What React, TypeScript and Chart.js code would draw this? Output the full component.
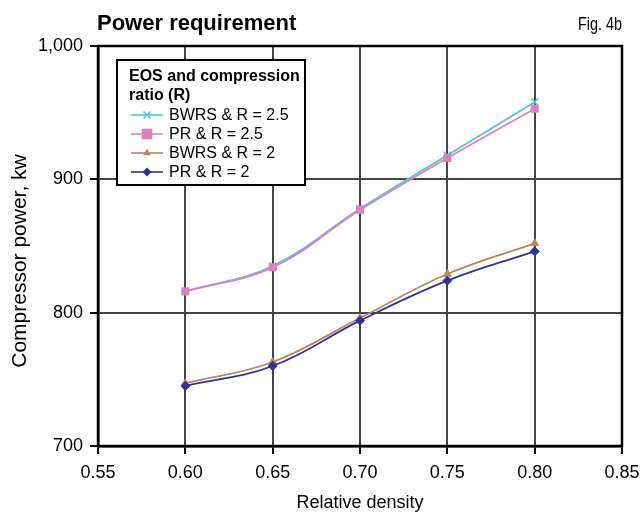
import React, { useEffect, useRef } from "react";
import { Chart, registerables } from "chart.js";

Chart.register(...registerables);

const densities = [0.6, 0.65, 0.7, 0.75, 0.8];
const bwrs25 = [816, 835, 878, 918, 958];
const pr25 = [816, 834, 877, 916, 953];
const bwrs2 = [747, 763, 796, 829, 852];
const pr2 = [745, 760, 794, 824, 846];
const seriesNames = ["BWRS & R = 2.5", "PR & R = 2.5", "BWRS & R = 2", "PR & R = 2"];
const seriesColors = ["#4ec5dc", "#e07fbf", "#c0825e", "#2f3396"];
const seriesMarkers = ["crossRot", "rect", "triangle", "rectRot"];
const markerRadius = [5, 5, 4.5, 4.5];
const xTicks = [0.55, 0.6, 0.65, 0.7, 0.75, 0.8, 0.85];
const yTicks = [700, 800, 900, 1000];
const titleText = "Power requirement";
const figText = "Fig. 4b";
const xTitle = "Relative density";
const yTitle = "Compressor power, kw";
const legendTitle = ["EOS and compression", "ratio (R)"];

const FONT = "'Liberation Sans', Arial, sans-serif";

function drawMarker(ctx: CanvasRenderingContext2D, style: string, r: number, x: number, y: number, color: string) {
  ctx.save();
  ctx.fillStyle = color;
  ctx.strokeStyle = color;
  ctx.lineWidth = 1.5;
  ctx.beginPath();
  if (style === "crossRot") {
    ctx.moveTo(x - r * 0.7, y - r * 0.7);
    ctx.lineTo(x + r * 0.7, y + r * 0.7);
    ctx.moveTo(x + r * 0.7, y - r * 0.7);
    ctx.lineTo(x - r * 0.7, y + r * 0.7);
    ctx.stroke();
  } else if (style === "rect") {
    const s = r * Math.SQRT2 * 0.75;
    ctx.fillRect(x - s, y - s, 2 * s, 2 * s);
  } else if (style === "triangle") {
    ctx.moveTo(x, y - r);
    ctx.lineTo(x + r * 0.87, y + r * 0.5);
    ctx.lineTo(x - r * 0.87, y + r * 0.5);
    ctx.closePath();
    ctx.fill();
  } else {
    ctx.moveTo(x, y - r);
    ctx.lineTo(x + r, y);
    ctx.lineTo(x, y + r);
    ctx.lineTo(x - r, y);
    ctx.closePath();
    ctx.fill();
  }
  ctx.restore();
}

const decorPlugin = {
  id: "decor",
  afterDraw(chart: any) {
    const ctx = chart.ctx as CanvasRenderingContext2D;
    const area = chart.chartArea;
    ctx.save();
    // frame
    ctx.strokeStyle = "#000";
    ctx.lineWidth = 2.5;
    ctx.strokeRect(area.left, area.top, area.right - area.left, area.bottom - area.top);
    // title
    ctx.fillStyle = "#000";
    ctx.textBaseline = "middle";
    ctx.textAlign = "left";
    ctx.font = `bold 22px ${FONT}`;
    ctx.fillText(titleText, 97, 24);
    ctx.save();
    ctx.translate(622, 25);
    ctx.scale(0.8, 1);
    ctx.textAlign = "right";
    ctx.font = `18px ${FONT}`;
    ctx.fillText(figText, 0, 0);
    ctx.restore();
    // axis titles
    ctx.textAlign = "center";
    ctx.font = `18px ${FONT}`;
    ctx.fillText(xTitle, (area.left + area.right) / 2, 503);
    ctx.save();
    ctx.translate(20, 261);
    ctx.rotate(-Math.PI / 2);
    ctx.font = `21px ${FONT}`;
    ctx.fillText(yTitle, 0, 0);
    ctx.restore();
    // legend
    const lx = 117, ly = 60, lw = 188, lh = 125;
    ctx.fillStyle = "#fff";
    ctx.fillRect(lx, ly, lw, lh);
    ctx.strokeStyle = "#000";
    ctx.lineWidth = 2;
    ctx.strokeRect(lx, ly, lw, lh);
    ctx.fillStyle = "#000";
    ctx.textAlign = "left";
    ctx.font = `bold 16px ${FONT}`;
    ctx.fillText(legendTitle[0], 129, 77);
    ctx.fillText(legendTitle[1], 129, 96);
    ctx.font = `16px ${FONT}`;
    const rows = [115, 134, 153, 172];
    rows.forEach((ry, i) => {
      ctx.strokeStyle = seriesColors[i];
      ctx.lineWidth = 1.6;
      ctx.beginPath();
      ctx.moveTo(131, ry);
      ctx.lineTo(163, ry);
      ctx.stroke();
      drawMarker(ctx, seriesMarkers[i], markerRadius[i], 147, ry, seriesColors[i]);
      ctx.fillStyle = "#000";
      ctx.fillText(seriesNames[i], 169, ry + 1);
    });
    ctx.restore();
  },
};

export default function App() {
  const ref = useRef<HTMLCanvasElement | null>(null);
  useEffect(() => {
    document.body.style.margin = "0";
    if (!ref.current) return;
    const all = [bwrs25, pr25, bwrs2, pr2];
    const chart = new Chart(ref.current, {
      type: "line",
      data: {
        datasets: all.map((vals, i) => ({
          label: seriesNames[i],
          data: vals.map((v, j) => ({ x: densities[j], y: v })),
          borderColor: seriesColors[i],
          backgroundColor: seriesColors[i],
          pointBorderColor: seriesColors[i],
          pointBackgroundColor: seriesColors[i],
          pointStyle: seriesMarkers[i] as any,
          pointRadius: markerRadius[i],
          pointBorderWidth: seriesMarkers[i] === "crossRot" ? 1.5 : 1,
          borderWidth: 1.8,
          tension: 0.4,
          fill: false,
          order: i === 1 || i === 3 ? 0 : 1,
        })),
      },
      options: {
        animation: false,
        responsive: false,
        maintainAspectRatio: false,
        layout: { padding: { top: 46, left: 0, right: 21, bottom: 0 } },
        plugins: {
          legend: { display: false },
          title: { display: false },
          tooltip: { enabled: false },
        },
        scales: {
          x: {
            type: "linear",
            min: 0.55,
            max: 0.85,
            afterBuildTicks: (s: any) => {
              s.ticks = xTicks.map((v) => ({ value: v }));
            },
            afterFit: (s: any) => {
              s.height = 66;
              s.paddingLeft = 0;
              s.paddingRight = 0;
            },
            ticks: {
              callback: (v: any) => Number(v).toFixed(2),
              color: "#000",
              font: { family: FONT, size: 18 },
              padding: 8,
              maxRotation: 0,
            },
            grid: {
              color: "#444",
              lineWidth: 2,
              tickColor: "#000",
              tickLength: 8,
              tickWidth: 2,
            },
            border: { display: true, color: "#000", width: 2.5 },
          },
          y: {
            type: "linear",
            min: 700,
            max: 1000,
            afterBuildTicks: (s: any) => {
              s.ticks = yTicks.map((v) => ({ value: v }));
            },
            afterFit: (s: any) => {
              s.width = 98;
              s.paddingTop = 0;
              s.paddingBottom = 0;
            },
            ticks: {
              callback: (v: any) => Number(v).toLocaleString("en-US"),
              color: "#000",
              font: { family: FONT, size: 18 },
              padding: 7,
            },
            grid: {
              color: "#444",
              lineWidth: 2,
              tickColor: "#000",
              tickLength: 8,
              tickWidth: 2,
            },
            border: { display: true, color: "#000", width: 2.5 },
          },
        },
      },
      plugins: [decorPlugin],
    });
    return () => chart.destroy();
  }, []);
  return (
    <div style={{ width: 643, height: 512, position: "relative", background: "#fff" }}>
      <canvas ref={ref} width={643} height={512} style={{ width: 643, height: 512, display: "block" }} />
    </div>
  );
}
